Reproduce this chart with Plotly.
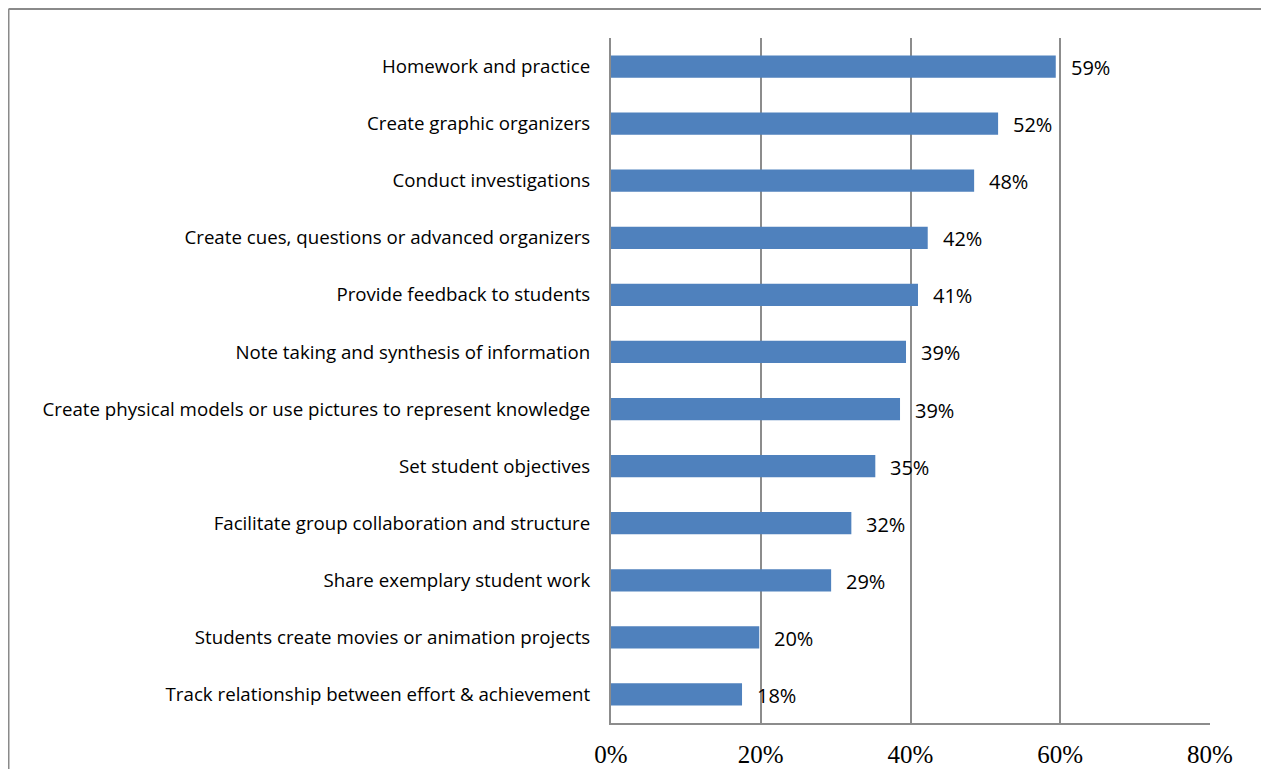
import plotly.graph_objects as go

categories = [
    "Homework and practice",
    "Create graphic organizers",
    "Conduct investigations",
    "Create cues, questions or advanced organizers",
    "Provide feedback to students",
    "Note taking and synthesis of information",
    "Create physical models or use pictures to represent knowledge",
    "Set student objectives",
    "Facilitate group collaboration and structure",
    "Share exemplary student work",
    "Students create movies or animation projects",
    "Track relationship between effort & achievement",
]
values = [0.594, 0.517, 0.485, 0.423, 0.410, 0.394, 0.386, 0.353, 0.321, 0.294, 0.198, 0.175]
value_labels = ["59%", "52%", "48%", "42%", "41%", "39%", "39%", "35%", "32%", "29%", "20%", "18%"]
tick_vals = [0, 0.2, 0.4, 0.6, 0.8]
tick_text = ["0%", "20%", "40%", "60%", "80%"]

# page body has an 8px margin on every side; keep the figure inside the
# viewport so no scrollbars appear
W, H = 1253, 761
L, R, T, B = 603, 51, 30, 46

fig = go.Figure()
fig.add_trace(go.Bar(
    y=categories, x=values, orientation="h",
    marker=dict(color="#4F81BD", line=dict(width=0)),
    hoverinfo="skip",
))

for c, v, t in zip(categories, values, value_labels):
    fig.add_annotation(x=v, y=c, text=t, showarrow=False, xanchor="left",
                       xshift=13, yshift=-1,
                       font=dict(family="Open Sans, Liberation Sans, Arial", size=20, color="#000000"))

pw = W - L - R
ph = H - T - B
xl = (0.5 - L) / pw
xr = (W - L) / pw
yt = 1 + (T - 1) / ph
yb = -B / ph
# outer frame: only the top and left edges are visible in the reference
fig.add_shape(type="line", xref="paper", yref="paper", x0=xl, x1=xr, y0=yt, y1=yt,
              line=dict(color="#8a8a8a", width=2), layer="above")
fig.add_shape(type="line", xref="paper", yref="paper", x0=xl, x1=xl, y0=yb, y1=yt,
              line=dict(color="#8a8a8a", width=2), layer="above")

fig.update_layout(
    width=W, height=H,
    margin=dict(l=L, r=R, t=T, b=B, pad=0, autoexpand=False),
    plot_bgcolor="white", paper_bgcolor="white",
    bargap=0.61,
    showlegend=False,
    xaxis=dict(range=[0, 0.8], tickvals=tick_vals, ticktext=tick_text,
               showgrid=True, gridcolor="#8c8c8c", gridwidth=1.5,
               zeroline=False, showline=True, linecolor="#8c8c8c", linewidth=2,
               ticks="outside", ticklen=8, tickcolor="rgba(0,0,0,0)",
               tickfont=dict(family="Liberation Serif, DejaVu Serif, serif", size=25, color="#000000"),
               automargin=False, fixedrange=True),
    yaxis=dict(autorange="reversed", showgrid=False, zeroline=False,
               showline=True, linecolor="#8c8c8c", linewidth=2,
               ticks="outside", ticklen=15, tickcolor="rgba(0,0,0,0)",
               tickfont=dict(family="Open Sans, Liberation Sans, Arial", size=18.7, color="#000000"),
               automargin=False, fixedrange=True),
)

fig.write_html("out.html")
